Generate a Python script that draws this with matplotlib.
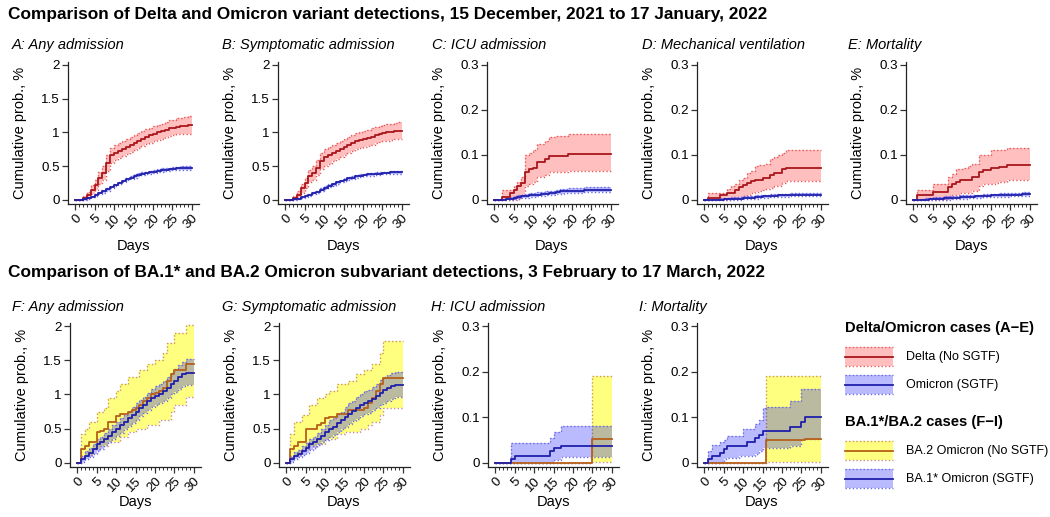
import matplotlib
matplotlib.use("Agg")
import matplotlib.pyplot as plt
from matplotlib.patches import Rectangle
from matplotlib.ticker import FixedLocator

plt.rcParams['font.family'] = ['Liberation Sans', 'DejaVu Sans']

W, H = 1050, 517
days = list(range(31))

# ---------------- Delta / Omicron (A-E) ----------------
A_delta = [0,0,0.03,0.07,0.15,0.22,0.33,0.40,0.55,0.66,0.70,0.73,0.76,0.79,0.82,0.85,0.88,0.91,0.94,0.96,0.98,1.00,1.02,1.04,1.06,1.07,1.08,1.09,1.10,1.11,1.11]
A_delta_lo = [0,0,0.01,0.03,0.09,0.15,0.24,0.30,0.43,0.55,0.59,0.62,0.65,0.68,0.71,0.74,0.77,0.80,0.83,0.85,0.87,0.89,0.91,0.93,0.95,0.96,0.97,0.97,0.98,0.98,0.98]
A_delta_hi = [0,0,0.06,0.12,0.22,0.30,0.42,0.50,0.66,0.77,0.81,0.84,0.87,0.90,0.93,0.96,0.99,1.02,1.05,1.07,1.09,1.11,1.13,1.16,1.18,1.19,1.21,1.22,1.23,1.24,1.24]
A_omi = [0,0,0.01,0.03,0.05,0.08,0.10,0.13,0.16,0.19,0.22,0.25,0.28,0.31,0.33,0.36,0.37,0.39,0.40,0.41,0.42,0.43,0.44,0.45,0.46,0.46,0.47,0.47,0.47,0.48,0.48]
A_omi_lo = [0,0,0.005,0.02,0.04,0.065,0.085,0.11,0.14,0.17,0.20,0.23,0.26,0.29,0.31,0.33,0.35,0.37,0.38,0.39,0.40,0.41,0.42,0.43,0.43,0.44,0.44,0.44,0.45,0.45,0.45]
A_omi_hi = [0,0,0.015,0.04,0.06,0.09,0.115,0.15,0.18,0.21,0.24,0.27,0.30,0.33,0.35,0.38,0.40,0.41,0.42,0.43,0.45,0.46,0.47,0.48,0.48,0.49,0.49,0.50,0.50,0.51,0.51]

B_delta = [0,0,0.03,0.08,0.17,0.25,0.36,0.40,0.48,0.58,0.63,0.66,0.69,0.72,0.75,0.78,0.81,0.84,0.87,0.89,0.90,0.92,0.94,0.96,0.98,0.99,1.00,1.01,1.02,1.02,1.02]
B_delta_lo = [0,0,0.01,0.04,0.10,0.17,0.27,0.30,0.37,0.46,0.51,0.54,0.57,0.60,0.63,0.66,0.69,0.72,0.75,0.77,0.78,0.80,0.82,0.84,0.86,0.87,0.88,0.89,0.90,0.90,0.90]
B_delta_hi = [0,0,0.06,0.13,0.24,0.33,0.45,0.50,0.59,0.70,0.75,0.78,0.81,0.84,0.87,0.90,0.93,0.96,0.99,1.01,1.02,1.04,1.06,1.08,1.10,1.11,1.12,1.13,1.14,1.15,1.15]
B_omi = [0,0,0.01,0.02,0.04,0.06,0.08,0.10,0.12,0.15,0.18,0.21,0.23,0.26,0.28,0.30,0.32,0.33,0.35,0.36,0.37,0.38,0.38,0.39,0.39,0.40,0.40,0.41,0.41,0.41,0.41]
B_omi_lo = [0,0,0.005,0.012,0.03,0.045,0.065,0.085,0.10,0.13,0.16,0.19,0.21,0.24,0.26,0.28,0.30,0.31,0.33,0.34,0.35,0.36,0.36,0.37,0.37,0.38,0.38,0.39,0.39,0.39,0.39]
B_omi_hi = [0,0,0.015,0.03,0.05,0.075,0.095,0.115,0.14,0.17,0.20,0.23,0.25,0.28,0.30,0.32,0.34,0.35,0.37,0.38,0.39,0.40,0.40,0.41,0.41,0.42,0.42,0.43,0.43,0.43,0.43]

C_delta = [0,0,0.007,0.007,0.015,0.022,0.03,0.038,0.063,0.068,0.072,0.085,0.085,0.09,0.098,0.098,0.098,0.098,0.098,0.102,0.102,0.102,0.102,0.102,0.102,0.102,0.102,0.102,0.102,0.102,0.102]
C_delta_lo = [0,0,0,0,0,0,0.002,0.01,0.03,0.035,0.04,0.05,0.05,0.055,0.062,0.063,0.063,0.063,0.063,0.065,0.065,0.065,0.065,0.065,0.065,0.065,0.065,0.065,0.065,0.065,0.065]
C_delta_hi = [0,0,0.022,0.022,0.022,0.03,0.04,0.05,0.10,0.105,0.11,0.125,0.125,0.13,0.14,0.14,0.142,0.142,0.142,0.147,0.147,0.147,0.147,0.147,0.147,0.147,0.147,0.147,0.147,0.147,0.147]
C_omi = [0,0,0.001,0.002,0.003,0.005,0.006,0.008,0.009,0.010,0.011,0.012,0.013,0.014,0.015,0.016,0.018,0.019,0.020,0.020,0.021,0.021,0.021,0.022,0.022,0.022,0.022,0.022,0.023,0.023,0.023]
C_omi_lo = [0,0,0,0,0,0.002,0.003,0.004,0.005,0.006,0.007,0.008,0.009,0.010,0.011,0.012,0.013,0.014,0.015,0.015,0.016,0.016,0.016,0.017,0.017,0.017,0.017,0.017,0.018,0.018,0.018]
C_omi_hi = [0,0,0.003,0.005,0.007,0.009,0.010,0.012,0.013,0.015,0.016,0.017,0.018,0.019,0.020,0.021,0.023,0.024,0.025,0.026,0.026,0.027,0.027,0.028,0.028,0.028,0.028,0.028,0.029,0.029,0.029]

D_delta = [0,0.004,0.004,0.004,0.01,0.01,0.015,0.015,0.022,0.028,0.033,0.038,0.042,0.045,0.045,0.048,0.048,0.055,0.06,0.06,0.068,0.072,0.072,0.072,0.072,0.072,0.072,0.072,0.072,0.072,0.072]
D_delta_lo = [0,0,0,0,0,0,0,0.002,0.004,0.006,0.008,0.012,0.015,0.018,0.02,0.022,0.024,0.026,0.03,0.032,0.038,0.043,0.043,0.043,0.043,0.043,0.043,0.043,0.043,0.043,0.043]
D_delta_hi = [0,0.015,0.015,0.015,0.015,0.015,0.025,0.03,0.035,0.045,0.048,0.06,0.065,0.075,0.078,0.078,0.08,0.09,0.095,0.10,0.105,0.11,0.11,0.11,0.11,0.11,0.11,0.11,0.11,0.11,0.11]
D_omi = [0,0,0,0.001,0.001,0.002,0.002,0.003,0.003,0.003,0.004,0.004,0.005,0.006,0.007,0.008,0.008,0.009,0.009,0.010,0.010,0.010,0.011,0.011,0.011,0.011,0.011,0.011,0.011,0.011,0.011]
D_omi_lo = [0,0,0,0,0,0,0,0.001,0.001,0.001,0.002,0.002,0.002,0.003,0.004,0.005,0.005,0.006,0.006,0.007,0.007,0.007,0.008,0.008,0.008,0.008,0.008,0.008,0.008,0.008,0.008]
D_omi_hi = [0,0,0.002,0.003,0.004,0.005,0.005,0.006,0.007,0.007,0.008,0.008,0.009,0.010,0.011,0.012,0.012,0.013,0.013,0.014,0.014,0.014,0.015,0.015,0.015,0.015,0.015,0.015,0.015,0.015,0.015]

E_delta = [0,0.01,0.01,0.01,0.01,0.017,0.017,0.017,0.017,0.028,0.035,0.04,0.045,0.045,0.045,0.05,0.05,0.063,0.067,0.067,0.07,0.07,0.073,0.073,0.077,0.077,0.077,0.077,0.077,0.077,0.077]
E_delta_lo = [0,0,0,0,0,0,0,0,0,0.005,0.01,0.012,0.015,0.015,0.015,0.02,0.02,0.03,0.035,0.035,0.035,0.037,0.04,0.04,0.045,0.045,0.045,0.045,0.045,0.045,0.045]
E_delta_hi = [0,0.023,0.023,0.023,0.023,0.035,0.035,0.035,0.035,0.05,0.058,0.068,0.068,0.07,0.075,0.08,0.08,0.10,0.10,0.10,0.11,0.11,0.11,0.11,0.115,0.115,0.115,0.115,0.115,0.115,0.115]
E_omi = [0,0,0.001,0.001,0.002,0.002,0.003,0.003,0.004,0.004,0.005,0.005,0.006,0.006,0.007,0.007,0.008,0.008,0.009,0.009,0.010,0.010,0.011,0.011,0.011,0.012,0.012,0.012,0.013,0.013,0.013]
E_omi_lo = [0,0,0,0,0,0,0,0,0.001,0.001,0.002,0.002,0.003,0.003,0.004,0.004,0.005,0.005,0.006,0.006,0.007,0.007,0.007,0.007,0.007,0.008,0.008,0.008,0.009,0.009,0.009]
E_omi_hi = [0,0,0.003,0.004,0.005,0.006,0.007,0.007,0.008,0.008,0.009,0.009,0.010,0.010,0.011,0.011,0.012,0.012,0.013,0.013,0.014,0.014,0.015,0.015,0.015,0.016,0.016,0.016,0.017,0.017,0.017]

# ---------------- BA.2 / BA.1* (F-I) ----------------
F_ba2 = [0,0.20,0.25,0.30,0.30,0.45,0.47,0.50,0.60,0.60,0.68,0.72,0.72,0.75,0.78,0.80,0.85,0.90,0.95,1.00,1.02,1.05,1.10,1.20,1.30,1.35,1.35,1.35,1.45,1.45,1.45]
F_ba2_lo = [0,0.10,0.12,0.12,0.20,0.20,0.25,0.25,0.30,0.30,0.30,0.38,0.38,0.45,0.45,0.50,0.50,0.50,0.55,0.55,0.55,0.62,0.62,0.62,0.75,0.85,0.85,0.85,0.97,0.97,0.97]
F_ba2_hi = [0,0.42,0.50,0.60,0.60,0.75,0.75,0.80,0.95,0.95,1.05,1.15,1.15,1.25,1.25,1.25,1.35,1.35,1.45,1.45,1.50,1.50,1.60,1.75,1.75,1.90,1.90,1.90,2.02,2.02,2.02]
F_ba1 = [0,0.05,0.10,0.15,0.20,0.27,0.30,0.35,0.40,0.45,0.50,0.55,0.60,0.65,0.70,0.75,0.80,0.85,0.90,0.95,0.98,1.00,1.05,1.10,1.15,1.20,1.25,1.30,1.32,1.32,1.32]
F_ba1_lo = [0,0.02,0.05,0.09,0.13,0.18,0.21,0.26,0.30,0.35,0.39,0.44,0.49,0.54,0.58,0.63,0.68,0.73,0.77,0.82,0.85,0.87,0.91,0.95,1.00,1.04,1.08,1.12,1.14,1.14,1.14]
F_ba1_hi = [0,0.10,0.17,0.22,0.28,0.35,0.38,0.44,0.50,0.55,0.60,0.66,0.70,0.76,0.81,0.87,0.92,0.97,1.02,1.08,1.12,1.15,1.20,1.26,1.31,1.37,1.43,1.48,1.52,1.52,1.52]

G_ba2 = [0,0.20,0.25,0.30,0.30,0.50,0.50,0.50,0.55,0.58,0.65,0.67,0.67,0.72,0.72,0.72,0.78,0.78,0.78,0.78,0.80,0.88,0.95,1.05,1.15,1.24,1.24,1.24,1.24,1.24,1.24]
G_ba2_lo = [0,0.10,0.12,0.12,0.20,0.20,0.25,0.25,0.28,0.28,0.35,0.35,0.35,0.42,0.42,0.45,0.45,0.45,0.45,0.50,0.50,0.55,0.60,0.60,0.70,0.80,0.80,0.80,0.80,0.80,0.80]
G_ba2_hi = [0,0.42,0.60,0.60,0.70,0.70,0.85,0.85,0.95,0.95,1.00,1.05,1.05,1.15,1.15,1.15,1.20,1.20,1.30,1.30,1.35,1.35,1.45,1.45,1.60,1.78,1.78,1.78,1.78,1.78,1.78]
G_ba1 = [0,0.05,0.10,0.13,0.17,0.22,0.27,0.30,0.35,0.40,0.45,0.50,0.53,0.58,0.62,0.67,0.72,0.76,0.80,0.85,0.88,0.90,0.94,0.98,1.02,1.06,1.10,1.12,1.14,1.14,1.14]
G_ba1_lo = [0,0.02,0.05,0.08,0.11,0.15,0.19,0.22,0.26,0.30,0.34,0.38,0.41,0.45,0.49,0.53,0.57,0.61,0.64,0.69,0.71,0.73,0.77,0.80,0.84,0.88,0.91,0.93,0.96,0.96,0.96]
G_ba1_hi = [0,0.09,0.16,0.19,0.24,0.29,0.35,0.38,0.44,0.50,0.56,0.62,0.65,0.71,0.75,0.81,0.87,0.91,0.96,1.01,1.05,1.07,1.11,1.16,1.21,1.25,1.29,1.31,1.33,1.33,1.33]

H_ba2 = [0]*25 + [0.052]*6
H_ba2_lo = [0]*25 + [0.001]*6
H_ba2_hi = [0]*25 + [0.19]*6
H_ba1 = [0,0,0,0,0.008,0.015,0.015,0.015,0.015,0.015,0.015,0.015,0.015,0.015,0.025,0.032,0.032,0.038,0.038,0.038,0.038,0.038,0.038,0.038,0.038,0.038,0.038,0.038,0.038,0.038,0.038]
H_ba1_lo = [0,0,0,0,0,0,0,0,0,0,0,0,0,0,0.003,0.006,0.006,0.012,0.012,0.012,0.012,0.012,0.012,0.012,0.012,0.012,0.012,0.012,0.012,0.012,0.012]
H_ba1_hi = [0,0,0,0,0.043,0.043,0.043,0.043,0.043,0.043,0.043,0.043,0.043,0.043,0.055,0.068,0.068,0.08,0.08,0.08,0.08,0.08,0.08,0.08,0.08,0.08,0.08,0.08,0.08,0.08,0.08]

I_ba2 = [0]*16 + [0.05]*10 + [0.052]*5
I_ba2_lo = [0]*16 + [0.002]*15
I_ba2_hi = [0]*16 + [0.19]*15
I_ba1 = [0,0.008,0.015,0.015,0.022,0.03,0.037,0.037,0.037,0.037,0.037,0.045,0.045,0.055,0.062,0.07,0.07,0.07,0.07,0.07,0.07,0.07,0.078,0.078,0.078,0.09,0.10,0.10,0.10,0.10,0.10]
I_ba1_lo = [0,0,0,0,0.003,0.008,0.01,0.01,0.01,0.015,0.015,0.015,0.015,0.02,0.025,0.032,0.032,0.032,0.032,0.032,0.032,0.032,0.036,0.036,0.036,0.052,0.052,0.052,0.052,0.052,0.052]
I_ba1_hi = [0,0.025,0.04,0.04,0.045,0.05,0.06,0.06,0.06,0.06,0.075,0.075,0.075,0.085,0.095,0.12,0.122,0.122,0.122,0.122,0.122,0.122,0.135,0.135,0.135,0.162,0.162,0.162,0.162,0.162,0.162]

title1 = "Comparison of Delta and Omicron variant detections, 15 December, 2021 to 17 January, 2022"
title2 = "Comparison of BA.1* and BA.2 Omicron subvariant detections, 3 February to 17 March, 2022"
panel_titles1 = ["A: Any admission", "B: Symptomatic admission", "C: ICU admission",
                 "D: Mechanical ventilation", "E: Mortality"]
panel_titles2 = ["F: Any admission", "G: Symptomatic admission", "H: ICU admission", "I: Mortality"]
ylab = "Cumulative prob., %"
xlab = "Days"
legend_title1 = "Delta/Omicron cases (A\u2212E)"
legend_labels1 = ["Delta (No SGTF)", "Omicron (SGTF)"]
legend_title2 = "BA.1*/BA.2 cases (F\u2212I)"
legend_labels2 = ["BA.2 Omicron (No SGTF)", "BA.1* Omicron (SGTF)"]

# styles
ST = {
    'delta': dict(line='#A8161B', fill='#FF0000', alpha=0.25, edge='#E85A5A'),
    'omi':   dict(line='#1F1FAA', fill='#0000FF', alpha=0.27, edge='#6A6AE6'),
    'ba2':   dict(line='#B5601A', fill='#FFFF00', alpha=0.5,  edge='#C8907E'),
    'ba1':   dict(line='#1F1FAA', fill='#0000FF', alpha=0.27, edge='#6A6AE6'),
}

fig = plt.figure(figsize=(W / 100, H / 100), dpi=100)

def px_axes(left, top, width, height):
    return fig.add_axes([left / W, 1 - (top + height) / H, width / W, height / H])

def series(ax, y, lo, hi, st, fillz, linez):
    ax.fill_between(days, lo, hi, step='post', color=st['fill'], alpha=st['alpha'],
                    linewidth=0, zorder=fillz)
    ax.step(days, lo, where='post', color=st['edge'], lw=1.0, ls=(0, (1, 1.6)), zorder=fillz + 0.1)
    ax.step(days, hi, where='post', color=st['edge'], lw=1.0, ls=(0, (1, 1.6)), zorder=fillz + 0.1)
    ax.step(days, y, where='post', color=st['line'], lw=1.3, zorder=linez)

def style_axes(ax, ymax):
    for s in ['top', 'right']:
        ax.spines[s].set_visible(False)
    for s in ['left', 'bottom']:
        ax.spines[s].set_linewidth(0.9)
        ax.spines[s].set_color('#222222')
    ax.set_xlim(-1.8, 31.8)
    ax.set_ylim(-0.03 * ymax, 1.022 * ymax)
    ax.xaxis.set_major_locator(FixedLocator([0, 5, 10, 15, 20, 25, 30]))
    ax.xaxis.set_minor_locator(FixedLocator(days))
    ax.set_xticklabels(['0', '5', '10', '15', '20', '25', '30'], rotation=45,
                       ha='right', va='top', rotation_mode='anchor')
    if ymax == 2:
        ax.set_yticks([0, 0.5, 1, 1.5, 2])
        ax.set_yticklabels(['0', '0.5', '1', '1.5', '2'])
    else:
        ax.set_yticks([0, 0.1, 0.2, 0.3])
        ax.set_yticklabels(['0', '0.1', '0.2', '0.3'])
    ax.tick_params(axis='both', which='major', length=4, width=0.9, color='#333333',
                   labelsize=9.6, labelcolor='black', pad=2)
    ax.tick_params(axis='x', which='minor', length=2.2, width=0.7, color='#333333')
    ax.set_ylabel(ylab, fontsize=10.5)
    ax.yaxis.set_label_coords(-0.31, 0.5)
    ax.patch.set_alpha(0)

# Row 1
row1 = [(A_delta, A_delta_lo, A_delta_hi, A_omi, A_omi_lo, A_omi_hi, 2),
        (B_delta, B_delta_lo, B_delta_hi, B_omi, B_omi_lo, B_omi_hi, 2),
        (C_delta, C_delta_lo, C_delta_hi, C_omi, C_omi_lo, C_omi_hi, 0.3),
        (D_delta, D_delta_lo, D_delta_hi, D_omi, D_omi_lo, D_omi_hi, 0.3),
        (E_delta, E_delta_lo, E_delta_hi, E_omi, E_omi_lo, E_omi_hi, 0.3)]
lefts1 = [68, 278, 487, 697, 906]
title_x1 = [12, 222, 432, 642, 848]
for i, (d, dl, dh, o, ol, oh, ymax) in enumerate(row1):
    ax = px_axes(lefts1[i], 62, 131, 142)
    series(ax, d, dl, dh, ST['delta'], 1, 5)
    series(ax, o, ol, oh, ST['omi'], 2, 6)
    style_axes(ax, ymax)
    fig.text(title_x1[i] / W, 1 - 45 / H, panel_titles1[i], fontsize=10.5, style='italic',
             ha='left', va='center')
    fig.text((lefts1[i] + 65) / W, 1 - 246 / H, xlab, fontsize=10.5, ha='center', va='center')

# Row 2
row2 = [(F_ba2, F_ba2_lo, F_ba2_hi, F_ba1, F_ba1_lo, F_ba1_hi, 2),
        (G_ba2, G_ba2_lo, G_ba2_hi, G_ba1, G_ba1_lo, G_ba1_hi, 2),
        (H_ba2, H_ba2_lo, H_ba2_hi, H_ba1, H_ba1_lo, H_ba1_hi, 0.3),
        (I_ba2, I_ba2_lo, I_ba2_hi, I_ba1, I_ba1_lo, I_ba1_hi, 0.3)]
lefts2 = [70, 279, 488, 697]
title_x2 = [12, 222, 431, 639]
for i, (b2, b2l, b2h, b1, b1l, b1h, ymax) in enumerate(row2):
    ax = px_axes(lefts2[i], 323, 131, 144)
    series(ax, b2, b2l, b2h, ST['ba2'], 1, 5)
    series(ax, b1, b1l, b1h, ST['ba1'], 2, 6)
    style_axes(ax, ymax)
    fig.text(title_x2[i] / W, 1 - 307 / H, panel_titles2[i], fontsize=10.5, style='italic',
             ha='left', va='center')
    fig.text((lefts2[i] + 65) / W, 1 - 502 / H, xlab, fontsize=10.5, ha='center', va='center')

# Main titles
fig.text(8 / W, 1 - 14 / H, title1, fontsize=12.4, fontweight='bold', ha='left', va='center')
fig.text(8 / W, 1 - 272 / H, title2, fontsize=12.4, fontweight='bold', ha='left', va='center')

# Legend (figure-level pixel coordinate axes)
lg = fig.add_axes([0, 0, 1, 1])
lg.set_xlim(0, W)
lg.set_ylim(H, 0)
lg.axis('off')
lg.patch.set_alpha(0)

def key(y0, st):
    x0, x1, h = 845, 893, 19
    lg.add_patch(Rectangle((x0, y0), x1 - x0, h, facecolor=st['fill'], alpha=st['alpha'],
                           edgecolor='none'))
    for yy in (y0, y0 + h):
        lg.plot([x0, x1], [yy, yy], color=st['edge'], lw=1.0, ls=(0, (1, 1.6)))
    lg.plot([x0, x1], [y0 + h / 2, y0 + h / 2], color=st['line'], lw=1.3)

lg.text(845, 328, legend_title1, fontsize=10.6, fontweight='bold', ha='left', va='center')
key(347, ST['delta'])
lg.text(906, 357, legend_labels1[0], fontsize=9, ha='left', va='center')
key(375, ST['omi'])
lg.text(906, 385, legend_labels1[1], fontsize=9, ha='left', va='center')
lg.text(845, 422, legend_title2, fontsize=10.6, fontweight='bold', ha='left', va='center')
key(441, ST['ba2'])
lg.text(906, 451, legend_labels2[0], fontsize=9, ha='left', va='center')
key(469, ST['ba1'])
lg.text(906, 479, legend_labels2[1], fontsize=9, ha='left', va='center')

fig.savefig('out.png', dpi=100)
